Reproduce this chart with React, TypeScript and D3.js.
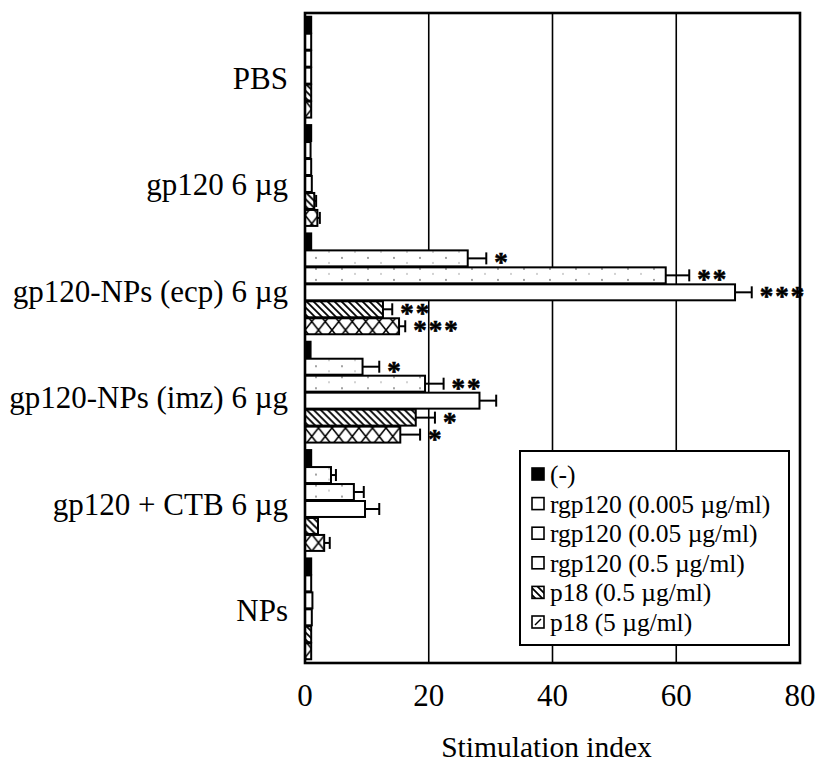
import React from "react";
import * as d3 from "d3";

const categories = [
  "PBS",
  "gp120 6 µg",
  "gp120-NPs (ecp) 6 µg",
  "gp120-NPs (imz) 6 µg",
  "gp120 + CTB 6 µg",
  "NPs",
];
const seriesNames = [
  "(-)",
  "rgp120 (0.005 µg/ml)",
  "rgp120 (0.05 µg/ml)",
  "rgp120 (0.5 µg/ml)",
  "p18 (0.5 µg/ml)",
  "p18 (5 µg/ml)",
];
// values per series, in category order
const negValues = [1.0, 1.0, 1.0, 0.9, 1.0, 1.0];
const rgp005Values = [1.0, 0.9, 26.3, 9.3, 4.2, 1.0];
const rgp05Values = [1.0, 1.0, 58.3, 19.4, 7.9, 1.2];
const rgp5Values = [1.0, 1.1, 69.5, 28.2, 9.7, 1.1];
const p18lowValues = [1.0, 1.5, 12.6, 17.9, 2.1, 1.0];
const p18highValues = [1.0, 2.0, 15.2, 15.4, 3.1, 1.0];
// error (added length)
const negErr = [0, 0, 0, 0, 0, 0];
const rgp005Err = [0, 0, 3.0, 2.7, 0.8, 0];
const rgp05Err = [0, 0, 3.8, 3.0, 1.6, 0];
const rgp5Err = [0, 0, 2.7, 2.7, 2.3, 0];
const p18lowErr = [0, 0.3, 1.5, 3.1, 0, 0];
const p18highErr = [0, 0.4, 1.0, 3.2, 0.9, 0];
// significance marks
const negSig = ["", "", "", "", "", ""];
const rgp005Sig = ["", "", "*", "*", "", ""];
const rgp05Sig = ["", "", "**", "**", "", ""];
const rgp5Sig = ["", "", "***", "", "", ""];
const p18lowSig = ["", "", "**", "*", "", ""];
const p18highSig = ["", "", "***", "*", "", ""];

const xTicks = [0, 20, 40, 60, 80];
const xTitle = "Stimulation index";

const seriesValues = [negValues, rgp005Values, rgp05Values, rgp5Values, p18lowValues, p18highValues];
const seriesErr = [negErr, rgp005Err, rgp05Err, rgp5Err, p18lowErr, p18highErr];
const seriesSig = [negSig, rgp005Sig, rgp05Sig, rgp5Sig, p18lowSig, p18highSig];

const FONT = "Liberation Serif, DejaVu Serif, serif";
const ts = { fontFamily: FONT };

export default function App() {
  const W = 824;
  const H = 762;
  const x = d3.scaleLinear().domain([0, 80]).range([305, 800]);
  const y0 = d3
    .scaleBand<string>()
    .domain(categories)
    .range([13, 663])
    .paddingInner(0.06)
    .paddingOuter(0.03);
  const y1 = d3.scaleBand<string>().domain(seriesNames).range([0, y0.bandwidth()]);
  const labelY = d3.scalePoint<string>().domain(categories).range([89, 621]);
  const legendY = d3.scalePoint<string>().domain(seriesNames).range([474, 622]);

  const bh = y1.bandwidth();
  const fillFor = (si: number, ci: number | string) => {
    if (si === 0) return "#000";
    if (si === 1 || si === 2) return "url(#stip)";
    if (si === 3) return "#fff";
    if (si === 4) return "url(#hatch)";
    return `url(#xx-${ci})`;
  };

  return (
    <svg
      width={W}
      height={H}
      style={{ position: "absolute", left: 0, top: 0, background: "#fff", fontFamily: FONT }}
    >
      <defs>
        <pattern id="stip" patternUnits="userSpaceOnUse" width={26} height={11}>
          <rect width={26} height={11} fill="#fff" />
          <circle cx={4} cy={3} r={0.9} fill="#777" />
          <circle cx={17} cy={8} r={0.8} fill="#999" />
        </pattern>
        <pattern id="hatch" patternUnits="userSpaceOnUse" width={7} height={7}>
          <rect width={7} height={7} fill="#fff" />
          <path d="M-1,-1 L8,8 M-4.5,2.5 L2.5,9.5 M2.5,-4.5 L9.5,2.5" stroke="#000" strokeWidth={1.8} />
        </pattern>
        {categories.map((c, ci) => {
          const yy = (y0(c) as number) + (y1(seriesNames[5]) as number);
          return (
            <pattern
              key={c}
              id={`xx-${ci}`}
              patternUnits="userSpaceOnUse"
              x={x(0)}
              y={yy}
              width={13.5}
              height={bh}
            >
              <rect width={13.5} height={bh} fill="#fff" />
              <path d={`M0,0 L13.5,${bh} M13.5,0 L0,${bh}`} stroke="#000" strokeWidth={1.6} />
            </pattern>
          );
        })}
        <pattern id="xx-leg" patternUnits="userSpaceOnUse" x={532} y={legendY(seriesNames[5])! - 6} width={12} height={12}>
          <rect width={12} height={12} fill="#fff" />
          <path d="M3,9 L9,3" stroke="#000" strokeWidth={1.4} />
        </pattern>
      </defs>

      {/* gridlines */}
      {xTicks.slice(1, -1).map((t) => (
        <line key={t} x1={x(t)} x2={x(t)} y1={13} y2={663} stroke="#000" strokeWidth={1.6} />
      ))}

      {/* bars */}
      {categories.map((c, ci) => (
        <g key={c} transform={`translate(0,${y0(c)})`}>
          {seriesNames.map((s, si) => {
            const v = seriesValues[si][ci];
            const e = seriesErr[si][ci];
            const sig = seriesSig[si][ci];
            const yy = y1(s) as number;
            const cy = yy + bh / 2;
            return (
              <g key={s}>
                <rect
                  x={x(0)}
                  y={yy + 0.5}
                  width={x(v) - x(0)}
                  height={bh - 1}
                  fill={fillFor(si, ci)}
                  stroke="#000"
                  strokeWidth={2}
                />
                {e > 0 && (
                  <g stroke="#000" strokeWidth={2}>
                    <line x1={x(v)} x2={x(v + e)} y1={cy} y2={cy} />
                    <line x1={x(v + e)} x2={x(v + e)} y1={cy - 6} y2={cy + 6} />
                  </g>
                )}
                {sig && (
                  <text
                    x={x(v + e) + 8}
                    y={cy + 13}
                    fontSize={27}
                    fontWeight="bold"
                    letterSpacing={2}
                    fill="#000"
                    stroke="#000"
                    strokeWidth={0.6}
                    style={ts}
                  >
                    {sig}
                  </text>
                )}
              </g>
            );
          })}
        </g>
      ))}

      {/* border */}
      <rect x={x(0)} y={13} width={x(80) - x(0)} height={650} fill="none" stroke="#000" strokeWidth={2.6} />

      {/* category labels */}
      {categories.map((c) => (
        <text key={c} x={288} y={labelY(c)} textAnchor="end" fontSize={31} fill="#000" style={ts}>
          {c}
        </text>
      ))}

      {/* x tick labels */}
      {xTicks.map((t) => (
        <text key={t} x={x(t)} y={706} textAnchor="middle" fontSize={31} fill="#000" style={ts}>
          {t}
        </text>
      ))}
      <text x={(x(0) + x(80)) / 2 - 6} y={757} textAnchor="middle" fontSize={29.5} fill="#000" style={ts}>
        {xTitle}
      </text>

      {/* legend */}
      <g>
        <rect x={520} y={451} width={269} height={194} fill="#fff" stroke="#000" strokeWidth={2} />
        {seriesNames.map((s, si) => {
          const cy = legendY(s) as number;
          return (
            <g key={s}>
              <rect
                x={532}
                y={cy - 6}
                width={12}
                height={12}
                fill={si === 0 ? "#000" : si === 4 ? "url(#hatch)" : si === 5 ? "url(#xx-leg)" : "#fff"}
                stroke="#000"
                strokeWidth={1.6}
              />
              <text x={550} y={cy} dy="0.35em" fontSize={25.5} fill="#000" style={ts}>
                {s}
              </text>
            </g>
          );
        })}
      </g>
    </svg>
  );
}
